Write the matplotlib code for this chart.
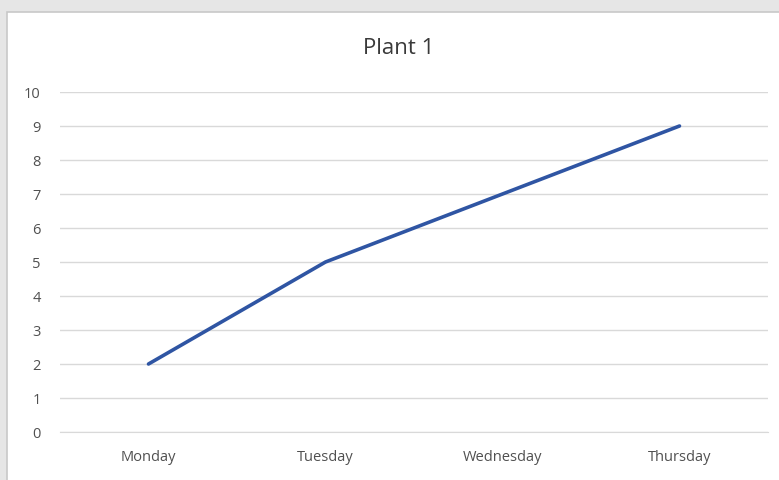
import matplotlib.pyplot as plt
from matplotlib.patches import Rectangle

days = ["Monday", "Tuesday", "Wednesday", "Thursday"]
plant1 = [2, 5, 7, 9]
y_ticks = list(range(0, 11))

W, H = 779, 480
fig = plt.figure(figsize=(W / 100, H / 100), dpi=100)
fig.patch.set_facecolor("#e6e6e6")

# white chart box with a soft grey edge, on a background axes
bg = fig.add_axes([0, 0, 1, 1])
bg.set_xlim(0, W)
bg.set_ylim(H, 0)
bg.axis("off")
bg.add_patch(Rectangle((7, 12), W, H, facecolor="white", edgecolor="#c8c8c8",
                       linewidth=1.2))

ax = fig.add_axes([60 / W, (H - 432) / H, 708 / W, 340 / H])
ax.set_facecolor("none")

x = list(range(len(days)))
ax.plot(x, plant1, color="#2f55a3", linewidth=2.6, solid_capstyle="round", zorder=3)

ax.set_xlim(-0.5, len(days) - 0.5)
ax.set_ylim(0, 10)
ax.set_yticks(y_ticks)
ax.set_xticks(x)
ax.set_xticklabels(days)
ax.yaxis.grid(True, color="#d9d9d9", linewidth=1)
ax.set_axisbelow(True)
for s in ax.spines.values():
    s.set_visible(False)
ax.spines["bottom"].set_visible(True)
ax.spines["bottom"].set_color("#d9d9d9")
ax.tick_params(length=0, colors="#505050", labelsize=10.5)
ax.tick_params(axis="x", pad=13)
ax.tick_params(axis="y", pad=14)
for lbl in ax.get_xticklabels() + ax.get_yticklabels():
    lbl.set_family("Open Sans")

fig.text(399 / W, 1 - 48 / H, "Plant 1", ha="center", va="center",
         fontsize=16, color="#3a3a3a", family="Open Sans")

fig.savefig("out.png", dpi=100, facecolor=fig.get_facecolor())
